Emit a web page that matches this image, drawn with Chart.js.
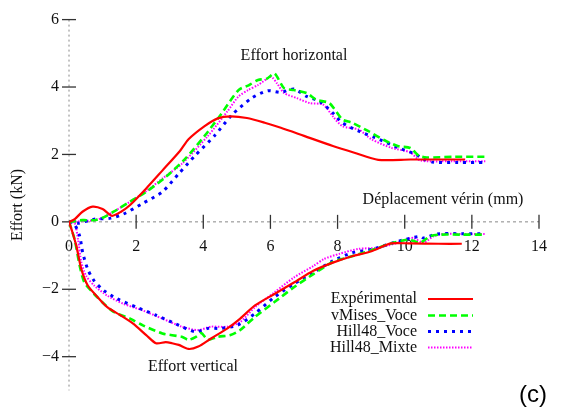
<!DOCTYPE html>
<html>
<head>
<meta charset="utf-8">
<script src="https://cdn.jsdelivr.net/npm/chart.js@4.4.1/dist/chart.umd.min.js"></script>
<style>
  html, body { margin: 0; padding: 0; background: #fff; }
  #wrap { width: 562px; height: 410px; }
</style>
</head>
<body>
<div id="wrap"><canvas id="chart"></canvas></div>
<script>
// axis ticks
const xTicks = [0, 2, 4, 6, 8, 10, 12, 14];
const yTicks = [-4, -2, 0, 2, 4, 6];

const seriesNames = ["Expérimental", "vMises_Voce", "Hill48_Voce", "Hill48_Mixte"];

// Effort horizontal (upper curves)
const expHX = [0, 0.17, 0.4, 0.7, 1.0, 1.28, 1.55, 1.82, 2.3, 2.78, 3.31, 3.56, 4.04, 4.43, 4.81, 5.3, 5.83, 6.31, 7.0, 7.86, 8.5, 9.21, 10.17, 11.0, 11.8];
const expHY = [0, 0.08, 0.3, 0.45, 0.38, 0.18, 0.3, 0.5, 0.99, 1.52, 2.11, 2.45, 2.84, 3.07, 3.13, 3.08, 2.94, 2.79, 2.55, 2.25, 2.05, 1.84, 1.85, 1.85, 1.85];

const vmHX = [0, 0.4, 0.75, 1.0, 1.33, 1.82, 2.3, 2.88, 3.46, 4.04, 4.52, 5.05, 5.35, 5.63, 5.9, 6.12, 6.41, 6.7, 7.08, 7.37, 7.76, 8.14, 8.43, 8.92, 9.4, 9.79, 10.17, 10.42, 10.66, 11.5, 12.4];
const vmHY = [0, 0.05, 0.05, 0.12, 0.3, 0.6, 0.89, 1.33, 1.87, 2.55, 3.18, 3.91, 4.05, 4.21, 4.25, 4.4, 3.96, 3.91, 3.82, 3.62, 3.52, 3.04, 2.94, 2.69, 2.42, 2.25, 2.19, 1.96, 1.91, 1.93, 1.93];

const hvHX = [0, 0.27, 0.75, 1.24, 1.62, 2.2, 2.78, 3.27, 3.75, 4.33, 4.86, 5.44, 5.92, 6.31, 6.7, 7.08, 7.47, 7.86, 8.14, 8.63, 9.11, 9.83, 10.32, 10.56, 10.85, 11.6, 12.4];
const hvHY = [0, -0.04, 0.08, 0.11, 0.23, 0.55, 0.89, 1.43, 1.96, 2.55, 3.18, 3.67, 3.89, 3.84, 3.94, 3.72, 3.57, 3.23, 2.94, 2.69, 2.5, 2.19, 2.01, 1.86, 1.77, 1.76, 1.76];

const hmHX = [0, 0.4, 0.75, 1.0, 1.33, 1.82, 2.3, 2.8, 3.36, 4.14, 4.72, 5.05, 5.34, 5.63, 6.02, 6.2, 6.41, 6.79, 7.18, 7.57, 7.86, 8.14, 8.63, 9.01, 9.59, 10.17, 10.46, 11.4, 12.4];
const hmHY = [0, 0.02, 0.05, 0.12, 0.3, 0.6, 0.91, 1.3, 1.72, 2.55, 3.28, 3.72, 3.91, 4.06, 4.3, 4.1, 3.82, 3.67, 3.52, 3.48, 3.13, 2.84, 2.74, 2.45, 2.2, 2.06, 1.82, 1.8, 1.8];

// Effort vertical (lower curves)
const expVX = [0, 0.1, 0.22, 0.37, 0.56, 0.85, 1.14, 1.53, 1.91, 2.3, 2.59, 2.88, 3.07, 3.27, 3.56, 3.85, 4.23, 4.72, 5.1, 5.54, 6.12, 6.7, 7.28, 7.86, 8.43, 9.01, 9.59, 10.17, 11.0, 11.7];
const expVY = [0, -0.3, -0.72, -1.41, -1.89, -2.23, -2.53, -2.77, -3.02, -3.36, -3.6, -3.57, -3.6, -3.65, -3.77, -3.7, -3.46, -3.16, -2.87, -2.48, -2.14, -1.8, -1.45, -1.21, -1.02, -0.87, -0.64, -0.64, -0.65, -0.65];

const vmVX = [0, 0.17, 0.32, 0.46, 0.75, 1.04, 1.33, 1.82, 2.2, 2.78, 3.36, 3.56, 3.8, 3.94, 4.14, 4.43, 4.81, 5.1, 5.54, 6.12, 6.7, 7.28, 7.86, 8.43, 9.01, 9.59, 10.07, 10.17, 10.46, 10.75, 11.04, 11.7, 12.4];
const vmVY = [0, -0.53, -1.31, -1.8, -2.14, -2.43, -2.67, -2.87, -3.07, -3.31, -3.41, -3.5, -3.4, -3.3, -3.5, -3.41, -3.36, -3.21, -2.82, -2.38, -1.94, -1.55, -1.19, -1.02, -0.84, -0.64, -0.53, -0.53, -0.62, -0.43, -0.38, -0.38, -0.38];

const hvVX = [0, 0.17, 0.32, 0.41, 0.56, 0.75, 1.04, 1.43, 2.01, 2.59, 3.17, 3.75, 4.14, 4.52, 5.01, 5.54, 6.12, 6.7, 7.28, 7.86, 8.43, 9.01, 9.59, 9.98, 10.46, 10.56, 10.95, 11.7, 12.4];
const hvVY = [0, -0.09, -0.43, -0.92, -1.41, -1.75, -2.04, -2.28, -2.53, -2.77, -3.02, -3.26, -3.16, -3.16, -3.07, -2.72, -2.23, -1.84, -1.5, -1.16, -0.92, -0.82, -0.64, -0.53, -0.43, -0.48, -0.36, -0.35, -0.35];

const hmVX = [0, 0.17, 0.27, 0.37, 0.51, 0.75, 1.14, 1.62, 2.2, 2.78, 3.36, 3.85, 4.23, 4.72, 5.1, 5.54, 6.12, 6.7, 7.28, 7.6, 8.05, 8.63, 9.21, 9.79, 10.17, 10.27, 10.56, 10.85, 11.14, 11.8, 12.4];
const hmVY = [0, -0.04, -0.53, -1.21, -1.6, -1.89, -2.19, -2.43, -2.63, -2.87, -3.11, -3.21, -3.11, -3.11, -2.97, -2.53, -2.09, -1.65, -1.31, -1.1, -0.95, -0.8, -0.77, -0.62, -0.48, -0.48, -0.62, -0.43, -0.36, -0.36, -0.36];


/* =========================
   STYLES PER SERIES
========================= */

const styles = [
    { color: "#ff0000", width: 2.2, dash: [] },
    { color: "#00ff00", width: 2.6, dash: [7, 4] },
    { color: "#0000ff", width: 3, dash: [3, 5] },
    { color: "#ff00ff", width: 2, dash: [1.5, 1.5] }
];

function pts(xs, ys) {
    return xs.map((v, i) => ({ x: v, y: ys[i] }));
}

function makeSet(i, xs, ys) {
    const s = styles[i];
    return {
        label: seriesNames[i],
        data: pts(xs, ys),
        showLine: true,
        borderColor: s.color,
        borderWidth: s.width,
        borderDash: s.dash,
        pointRadius: 0,
        tension: 0.25,
        fill: false
    };
}

const datasets = [
    makeSet(0, expHX, expHY), makeSet(0, expVX, expVY),
    makeSet(1, vmHX, vmHY), makeSet(1, vmVX, vmVY),
    makeSet(2, hvHX, hvHY), makeSet(2, hvVX, hvVY),
    makeSet(3, hmHX, hmHY), makeSet(3, hmVX, hmVY)
];


/* =========================
   AXES, LABELS, LEGEND
========================= */

const serif = "'Liberation Serif', 'DejaVu Serif', serif";

const decor = {
    id: "decor",
    beforeDatasetsDraw(chart) {
        const { ctx, scales: { x, y } } = chart;
        const x0 = x.getPixelForValue(0);
        const y0 = y.getPixelForValue(0);
        ctx.save();

        // dotted vertical axis and dashed zero line
        ctx.strokeStyle = "#888";
        ctx.lineWidth = 1;
        ctx.setLineDash([2, 3]);
        ctx.beginPath();
        ctx.moveTo(x0, y.top);
        ctx.lineTo(x0, y.bottom);
        ctx.stroke();
        ctx.setLineDash([3, 3]);
        ctx.beginPath();
        ctx.moveTo(x.left, y0);
        ctx.lineTo(x.right, y0);
        ctx.stroke();

        // tick marks crossing the axes
        ctx.setLineDash([]);
        ctx.strokeStyle = "#333";
        ctx.lineWidth = 1.3;
        yTicks.forEach(v => {
            const p = y.getPixelForValue(v);
            ctx.beginPath();
            ctx.moveTo(x0 - 7, p);
            ctx.lineTo(x0 + 7, p);
            ctx.stroke();
        });
        xTicks.forEach(v => {
            if (v === 0) return;
            const p = x.getPixelForValue(v);
            ctx.beginPath();
            ctx.moveTo(p, y0 - 7);
            ctx.lineTo(p, y0 + 7);
            ctx.stroke();
        });
        ctx.restore();
    },
    afterDraw(chart) {
        const { ctx } = chart;
        ctx.save();
        ctx.fillStyle = "#111";
        ctx.font = "16px " + serif;
        ctx.textBaseline = "middle";
        ctx.textAlign = "center";
        ctx.fillText("Effort horizontal", 294, 56);
        ctx.fillText("Déplacement vérin (mm)", 443, 200);
        ctx.fillText("Effort vertical", 193, 367);

        // legend: text right aligned, sample line on the right
        const rows = [299, 315.5, 331.5, 347.5];
        ctx.textAlign = "right";
        seriesNames.forEach((name, i) => {
            ctx.fillStyle = "#111";
            ctx.fillText(name, 417, rows[i]);
            const s = styles[i];
            ctx.strokeStyle = s.color;
            ctx.lineWidth = s.width;
            ctx.setLineDash(s.dash);
            ctx.beginPath();
            ctx.moveTo(428, rows[i]);
            ctx.lineTo(473, rows[i]);
            ctx.stroke();
        });
        ctx.setLineDash([]);

        ctx.fillStyle = "#000";
        ctx.font = "24px 'Liberation Sans', Arial, sans-serif";
        ctx.textAlign = "center";
        ctx.textBaseline = "alphabetic";
        ctx.fillText("(c)", 533, 402);
        ctx.restore();
    }
};

const ctx = document.getElementById("chart").getContext("2d");

new Chart(ctx, {
    type: "scatter",
    data: { datasets },
    options: {
        responsive: true,
        maintainAspectRatio: false,
        animation: false,
        layout: { padding: { top: 17, right: 10, bottom: 18, left: 0 } },
        scales: {
            x: {
                type: "linear",
                min: 0,
                max: 14,
                position: { y: 0 },
                afterBuildTicks: s => { s.ticks = xTicks.map(v => ({ value: v })); },
                grid: { display: false, drawTicks: false },
                border: { display: false },
                ticks: {
                    padding: 15,
                    color: "#111",
                    font: { family: serif, size: 16 },
                    maxRotation: 0
                }
            },
            y: {
                type: "linear",
                min: -5,
                max: 6,
                position: "left",
                afterBuildTicks: s => { s.ticks = yTicks.map(v => ({ value: v })); },
                afterFit: s => { s.width = 69; },
                grid: { display: false, drawTicks: false },
                border: { display: false },
                title: {
                    display: true,
                    text: "Effort (kN)",
                    color: "#111",
                    font: { family: serif, size: 16 },
                    padding: { top: 8, bottom: 0 }
                },
                ticks: {
                    padding: 10,
                    color: "#111",
                    font: { family: serif, size: 16 },
                    callback: v => String(v).replace("-", "\u2212")
                }
            }
        },
        plugins: {
            legend: { display: false },
            tooltip: { enabled: false }
        }
    },
    plugins: [decor]
});
</script>
</body>
</html>
